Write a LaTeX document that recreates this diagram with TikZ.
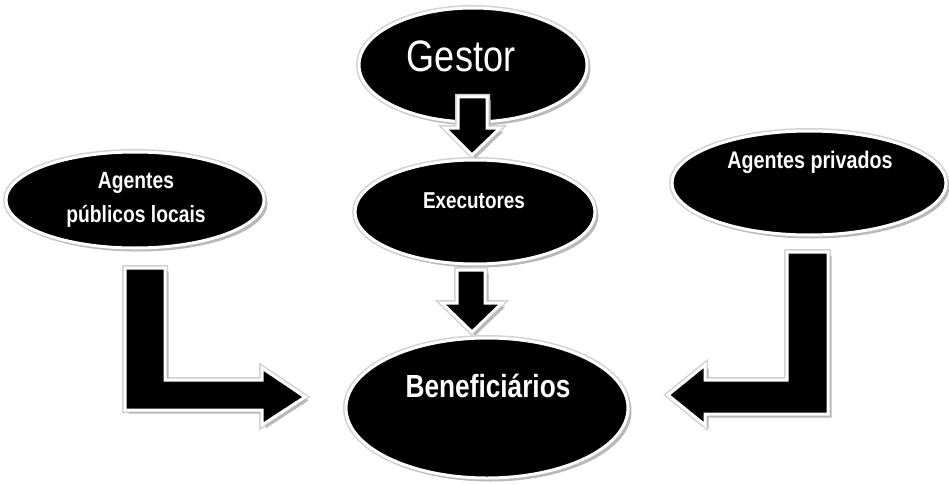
\documentclass[tikz,border=0pt]{standalone}
\usepackage{fontspec}
\setmainfont{Liberation Sans}
\newfontfamily\narrowfont[FakeStretch=0.82]{Liberation Sans}
\usetikzlibrary{shapes.geometric,shadows}
\tikzset{
  blob/.style={ellipse, inner sep=0pt, fill=black, draw=white, line width=3pt,
    preaction={draw=gray!35, line width=6pt},
    general shadow={fill=gray!55, shadow xshift=3.5pt, shadow yshift=-3.5pt}},
  blockarrow/.style={fill=black, draw=white, line width=3pt, line join=miter,
    preaction={draw=gray!35, line width=6pt},
    general shadow={fill=gray!55, shadow xshift=3.5pt, shadow yshift=-3.5pt}},
  lbl/.style={text=white, anchor=base, inner sep=0pt, align=center},
}
\begin{document}
\begin{tikzpicture}[x=1pt,y=-1pt]
\useasboundingbox (0,0) rectangle (949,484);
% ellipses
\node[blob, minimum width=228pt, minimum height=114pt] (gestor) at (473,65) {};
\node[blob, minimum width=240pt, minimum height=104pt] (exec) at (475,212) {};
\node[blob, minimum width=258pt, minimum height=96pt] (pub) at (135,200) {};
\node[blob, minimum width=274pt, minimum height=104pt] (priv) at (809,183) {};
\node[blob, minimum width=282pt, minimum height=140pt] (benef) at (487,408) {};
% texts
\node[lbl, font=\narrowfont\fontsize{44}{46}\selectfont] (tg) at (461,72) {Gestor};
\node[lbl, font=\narrowfont\bfseries\fontsize{23}{26}\selectfont] (te) at (474,208) {Executores};
\node[lbl, font=\narrowfont\bfseries\fontsize{23.5}{26}\selectfont] (tp1) at (136,188) {Agentes};
\node[lbl, font=\narrowfont\bfseries\fontsize{23.5}{26}\selectfont] (tp2) at (136,222) {públicos locais};
\node[lbl, font=\narrowfont\bfseries\fontsize{24}{27}\selectfont] (tv) at (810,168) {Agentes privados};
\node[lbl, font=\narrowfont\bfseries\fontsize{32}{36}\selectfont] (tb) at (488,397) {Beneficiários};
% block arrows
\path[blockarrow] (458,97) -- (487,97) -- (487,128) -- (500,128) -- (472,155)
  -- (445,128) -- (458,128) -- cycle;
\path[blockarrow] (457,270) -- (485,270) -- (485,303) -- (502,303) -- (472,332)
  -- (442,303) -- (457,303) -- cycle;
\path[blockarrow] (125,268) -- (165,268) -- (165,380) -- (262,380) -- (262,368)
  -- (305,397) -- (262,425) -- (262,410) -- (125,410) -- cycle;
\path[blockarrow] (787,252) -- (828,252) -- (828,414) -- (705,414) -- (705,425)
  -- (668,395) -- (705,365) -- (705,380) -- (787,380) -- cycle;
\end{tikzpicture}
\end{document}
